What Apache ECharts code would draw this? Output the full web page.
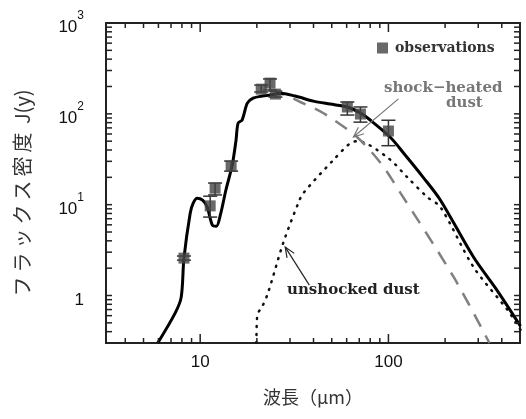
<!DOCTYPE html>
<html>
<head>
<meta charset="utf-8">
<script src="https://cdn.jsdelivr.net/npm/echarts@6/dist/echarts.min.js"></script>
<style>
  html, body { margin: 0; padding: 0; background: #fff; }
  #chart { width: 526px; height: 419px; }
</style>
</head>
<body>
<div id="chart"></div>
<script>
// observations (wavelength in um, flux in Jy)
const obsWave = [8.2, 11.3, 12.0, 14.6, 21.1, 23.5, 25.1, 60.5, 71, 100];
const obsFlux = [2.58, 9.7, 15.2, 26.6, 187, 218, 165, 119, 99.5, 64.7];
const obsLow  = [2.45, 7.3, 12.8, 23.4, 174, 183, 153, 97, 81, 44.6];
const obsHigh = [2.72, 12.4, 17.3, 30.2, 207, 242, 178, 135, 119, 85];

// total model (solid)
const totalWave = [5.95, 7.36, 7.93, 8.2, 8.85, 9.18, 9.64, 10.3, 10.9, 11.6, 12.2, 12.8, 13.7, 14.8, 15.5, 15.9, 16.7, 17.8, 19.1, 21.4, 23.5, 26.7, 32, 39.9, 49, 60.5, 71, 80, 102, 123, 153, 189, 283, 380, 503];
const totalFlux = [0.3, 0.64, 0.96, 2.58, 8.07, 10.4, 11.8, 11.2, 9.4, 5.96, 5.8, 7.7, 14.5, 27.3, 51, 79, 85.5, 131, 149, 157, 161, 169, 157, 138, 128, 119, 102, 85.5, 55.5, 35, 20, 11.2, 2.65, 1.12, 0.46];

// shock-heated dust (dashed)
const hotWave = [23.5, 26.7, 34, 45, 68, 91, 116, 222, 344];
const hotFlux = [161, 165, 135, 102, 55.5, 28.7, 13.4, 1.6, 0.3];

// unshocked dust (dotted)
const coldWave = [19.9, 20.1, 21.4, 23, 27.6, 33.2, 35.3, 51, 62.8, 68.4, 99, 126, 161, 189, 283, 430, 503];
const coldFlux = [0.3, 0.61, 0.76, 1.09, 3.78, 10.4, 13.4, 31, 47.6, 50, 33, 20, 12.1, 9.4, 2.06, 0.69, 0.42];

// annotation arrows: [fromWave, fromFlux, toWave, toFlux]
const arrowShock = [113, 146, 65.2, 55.5];
const arrowCold = [38, 1.3, 28.3, 3.41];

// axis range and ticks
const xRange = [3.16, 500];
const yRange = [0.3, 1000];
const xMajor = [10, 100];
const xMinor = [4, 5, 6, 7, 8, 9, 20, 30, 40, 50, 60, 70, 80, 90, 200, 300, 400];
const yMajor = [1, 10, 100, 1000];
const yMinor = [0.4, 0.5, 0.6, 0.7, 0.8, 0.9, 2, 3, 4, 5, 6, 7, 8, 9, 20, 30, 40, 50, 60, 70, 80, 90, 200, 300, 400, 500, 600, 700, 800, 900];

const lg = Math.log10;
const pairs = (xs, ys) => xs.map((x, i) => [lg(x), lg(ys[i])]);
const x0 = lg(xRange[0]), x1 = lg(xRange[1]);
const y0 = lg(yRange[0]), y1 = lg(yRange[1]);

const ink = '#222';
const labelFont = 'Liberation Sans, Arial, sans-serif';
const noteFont = 'DejaVu Serif, serif';

// one custom series draws error bars (kind 0), x ticks (kind 1) and y ticks (kind 2)
// row: [a, b, c, kind, len]
const markRows = []
  .concat(obsWave.map((w, i) => [lg(w), lg(obsLow[i]), lg(obsHigh[i]), 0, 0]))
  .concat(xMajor.map(v => [lg(v), y0, y1, 1, 9]))
  .concat(xMinor.map(v => [lg(v), y0, y1, 1, 5]))
  .concat(yMajor.filter(v => v < yRange[1]).map(v => [x0, lg(v), x1, 2, 6]))
  .concat(yMinor.map(v => [x0, lg(v), x1, 2, 6]));

const chart = echarts.init(document.getElementById('chart'));

const option = {
  animation: false,
  grid: {
    left: 106, right: 6, top: 23, bottom: 76,
    show: true, borderColor: ink, borderWidth: 2
  },
  legend: {
    data: ['observations'],
    left: 372,
    top: 36,
    itemWidth: 11,
    itemHeight: 11,
    itemGap: 0,
    textStyle: { fontFamily: noteFont, fontWeight: 'bold', fontSize: 14, color: '#333', padding: [0, 0, 0, 2] }
  },
  xAxis: {
    type: 'value',
    min: x0,
    max: x1,
    splitLine: { show: false },
    axisLine: { show: false, onZero: false },
    axisTick: { show: false },
    axisLabel: {
      customValues: xMajor.map(lg),
      margin: 11,
      fontSize: 17,
      color: '#111',
      fontFamily: labelFont,
      formatter: v => String(Math.round(Math.pow(10, v)))
    },
    name: '波長（μm）',
    nameLocation: 'middle',
    nameGap: 45,
    nameTextStyle: { fontFamily: 'Noto Sans CJK JP', fontSize: 18, color: '#333' }
  },
  yAxis: {
    type: 'value',
    min: y0,
    max: y1,
    splitLine: { show: false },
    axisLine: { show: false, onZero: false },
    axisTick: { show: false },
    axisLabel: {
      customValues: yMajor.map(lg),
      margin: 22,
      color: '#111',
      fontFamily: labelFont,
      fontSize: 17,
      formatter: v => {
        const e = Math.round(v);
        return e === 0 ? '{b|1}' : '{b|10}{s|' + e + '}';
      },
      rich: {
        b: { fontSize: 17, fontFamily: labelFont, color: '#111', lineHeight: 26, verticalAlign: 'bottom' },
        s: { fontSize: 12, fontFamily: labelFont, color: '#111', lineHeight: 12, verticalAlign: 'top' }
      }
    },
    name: 'フ\u2009ラ\u2009ッ\u2009ク\u2009ス\u2009密\u2009度\u2009 J(y)\u2003',
    nameLocation: 'middle',
    nameRotate: 90,
    nameGap: 74,
    nameTextStyle: { fontFamily: 'Noto Sans CJK JP', fontSize: 20, color: '#333' }
  },
  graphic: [
    { type: 'text', left: 384, top: 81, style: { text: 'shock\u2212heated', font: 'bold 15px ' + noteFont, fill: '#777' } },
    { type: 'text', left: 446, top: 96, style: { text: 'dust', font: 'bold 15px ' + noteFont, fill: '#777' } },
    { type: 'text', left: 287, top: 283, style: { text: 'unshocked dust', font: 'bold 15px ' + noteFont, fill: '#222' } }
  ],
  series: [
    {
      name: 'unshocked',
      type: 'line',
      data: pairs(coldWave, coldFlux),
      smooth: 0.3,
      showSymbol: false,
      lineStyle: { color: '#111', width: 2.5, type: [1, 7], cap: 'round' },
      z: 2
    },
    {
      name: 'shock-heated',
      type: 'line',
      data: pairs(hotWave, hotFlux),
      smooth: 0.3,
      showSymbol: false,
      lineStyle: { color: '#808080', width: 2.5, type: [14, 10] },
      z: 2
    },
    {
      name: 'total',
      type: 'line',
      data: pairs(totalWave, totalFlux),
      smooth: 0.3,
      showSymbol: false,
      lineStyle: { color: '#000', width: 3 },
      z: 3
    },
    {
      name: 'marks',
      type: 'custom',
      data: markRows,
      renderItem: (params, api) => {
        const kind = api.value(3);
        const len = api.value(4);
        if (kind === 1) {
          const b = api.coord([api.value(0), api.value(1)]);
          const t = api.coord([api.value(0), api.value(2)]);
          const st = { stroke: ink, lineWidth: 1.5 };
          return {
            type: 'group',
            children: [
              { type: 'line', shape: { x1: b[0], y1: b[1], x2: b[0], y2: b[1] - len }, style: st },
              { type: 'line', shape: { x1: t[0], y1: t[1], x2: t[0], y2: t[1] + len }, style: st }
            ]
          };
        }
        if (kind === 2) {
          const l = api.coord([api.value(0), api.value(1)]);
          const r = api.coord([api.value(2), api.value(1)]);
          const st = { stroke: ink, lineWidth: 1.5 };
          return {
            type: 'group',
            children: [
              { type: 'line', shape: { x1: l[0], y1: l[1], x2: l[0] + len, y2: l[1] }, style: st },
              { type: 'line', shape: { x1: r[0], y1: r[1], x2: r[0] - len, y2: r[1] }, style: st }
            ]
          };
        }
        const top = api.coord([api.value(0), api.value(2)]);
        const bot = api.coord([api.value(0), api.value(1)]);
        const w = 7;
        const st = { stroke: '#333', lineWidth: 1.5 };
        return {
          type: 'group',
          children: [
            { type: 'line', shape: { x1: top[0], y1: top[1], x2: bot[0], y2: bot[1] }, style: st },
            { type: 'line', shape: { x1: top[0] - w, y1: top[1], x2: top[0] + w, y2: top[1] }, style: st },
            { type: 'line', shape: { x1: bot[0] - w, y1: bot[1], x2: bot[0] + w, y2: bot[1] }, style: st }
          ]
        };
      },
      z: 4
    },
    {
      name: 'observations',
      type: 'scatter',
      data: pairs(obsWave, obsFlux),
      symbol: 'rect',
      symbolSize: 11,
      itemStyle: { color: '#444' },
      z: 5
    },
    {
      name: 'arrows',
      type: 'custom',
      data: [
        [...arrowShock.map(lg), 0],
        [...arrowCold.map(lg), 1]
      ],
      renderItem: (params, api) => {
        const a = api.coord([api.value(0), api.value(1)]);
        const b = api.coord([api.value(2), api.value(3)]);
        const color = api.value(4) === 0 ? '#777' : '#222';
        const ang = Math.atan2(a[1] - b[1], a[0] - b[0]);
        const hl = 11, spread = 0.4;
        const h1 = [b[0] + hl * Math.cos(ang + spread), b[1] + hl * Math.sin(ang + spread)];
        const h2 = [b[0] + hl * Math.cos(ang - spread), b[1] + hl * Math.sin(ang - spread)];
        const st = { stroke: color, lineWidth: 1.2, fill: null };
        return {
          type: 'group',
          children: [
            { type: 'line', shape: { x1: a[0], y1: a[1], x2: b[0], y2: b[1] }, style: st },
            { type: 'polyline', shape: { points: [h1, b, h2] }, style: st }
          ]
        };
      },
      z: 6
    }
  ]
};

chart.setOption(option);
window.addEventListener('resize', () => chart.resize());
</script>
</body>
</html>
